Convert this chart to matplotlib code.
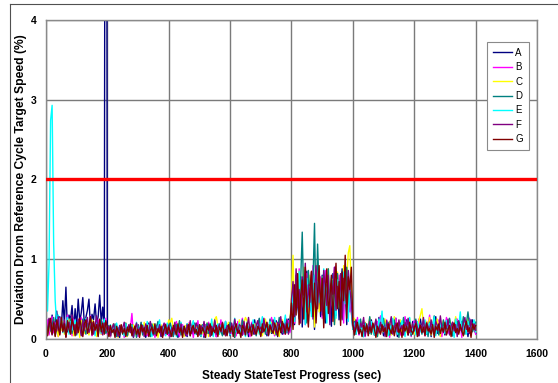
import matplotlib
matplotlib.use("Agg")
import matplotlib.pyplot as plt
from matplotlib.lines import Line2D
import numpy as np

plt.rcParams['font.family'] = ['Liberation Sans', 'DejaVu Sans']

# deviation per run, in hundredths of a percent, one sample every 5 s (0..1400 s)
dev_a = [18, 6, 25, 10, 30, 8, 22, 35, 12, 28, 14, 48, 20, 65, 9, 30, 24, 42, 11, 38,
         16, 50, 22, 33, 52, 18, 27, 36, 50, 15, 31, 24, 44, 19, 28, 55, 21, 40, 12, 1500,
         8, 14, 3, 11, 17, 5, 9, 13, 2, 16, 6, 12, 19, 4, 10, 15, 7, 3, 14, 9,
         18, 5, 12, 8, 16, 2, 11, 20, 6, 13, 9, 4, 17, 10, 14, 3, 8, 15, 12, 6,
         19, 4, 11, 7, 16, 13, 2, 9, 18, 5, 14, 10, 3, 17, 8, 12, 6, 20, 11, 4,
         15, 9, 13, 2, 18, 7, 10, 16, 5, 12, 19, 3, 14, 8, 11, 17, 6, 22, 9, 13,
         4, 16, 10, 2, 18, 12, 7, 15, 5, 20, 9, 14, 3, 17, 11, 6, 24, 8, 13, 19,
         5, 15, 10, 21, 4, 12, 18, 7, 16, 9, 23, 3, 14, 11, 6, 19, 13, 8, 25, 10,
         30, 55, 18, 70, 42, 25, 78, 15, 60, 48, 85, 22, 66, 35, 50, 12, 74, 40, 58, 28,
         80, 45, 20, 68, 38, 62, 16, 82, 52, 30, 72, 24, 56, 88, 44, 65, 18, 76, 50, 34,
         12, 25, 6, 18, 9, 22, 14, 3, 20, 11, 16, 7, 24, 13, 5, 19, 10, 27, 8, 15,
         4, 21, 12, 17, 6, 23, 9, 14, 26, 3, 18, 11, 20, 7, 13, 24, 5, 16, 10, 22,
         8, 15, 19, 4, 25, 12, 9, 17, 6, 21, 14, 3, 18, 11, 28, 7, 16, 20, 10, 13,
         5, 23, 9, 15, 19, 4, 12, 26, 8, 17, 11, 22, 6, 14, 20, 3, 18, 10, 24, 13,
         7]

dev_b = [10, 24, 5, 17, 28, 8, 20, 13, 3, 26, 15, 9, 22, 6, 30, 12, 19, 4, 25, 14,
         7, 21, 11, 27, 5, 18, 23, 9, 16, 29, 4, 20, 13, 8, 24, 17, 6, 22, 10, 26,
         6, 15, 3, 12, 18, 8, 10, 4, 16, 9, 13, 2, 19, 7, 11, 14, 32, 5, 17, 10,
         3, 12, 20, 6, 15, 9, 4, 18, 11, 7, 16, 2, 13, 21, 8, 10, 14, 5, 19, 12,
         4, 17, 9, 15, 6, 22, 11, 3, 14, 18, 8, 12, 5, 20, 10, 16, 2, 13, 9, 23,
         7, 15, 11, 4, 18, 12, 21, 6, 14, 9, 16, 3, 19, 10, 24, 8, 13, 5, 17, 11,
         20, 7, 15, 12, 4, 22, 9, 16, 26, 6, 13, 18, 10, 3, 21, 14, 8, 19, 11, 25,
         5, 16, 12, 22, 7, 18, 10, 27, 14, 4, 20, 9, 15, 24, 11, 6, 19, 13, 23, 8,
         38, 62, 20, 75, 45, 88, 28, 55, 70, 18, 82, 40, 60, 32, 92, 50, 24, 68, 44, 78,
         26, 58, 86, 36, 64, 22, 74, 48, 90, 30, 56, 80, 42, 66, 20, 84, 52, 70, 34, 60,
         20, 8, 15, 27, 5, 18, 12, 23, 3, 16, 10, 25, 7, 19, 14, 4, 22, 11, 29, 9,
         17, 6, 24, 13, 2, 20, 15, 8, 26, 12, 18, 5, 21, 10, 28, 14, 7, 19, 3, 16,
         23, 11, 6, 25, 13, 9, 18, 4, 22, 15, 30, 8, 12, 20, 6, 17, 24, 10, 3, 19,
         14, 27, 7, 16, 11, 21, 5, 13, 25, 9, 18, 2, 23, 12, 17, 8, 26, 10, 15, 20,
         6]

dev_c = [12, 5, 20, 9, 16, 24, 7, 14, 3, 19, 11, 22, 6, 17, 13, 25, 8, 15, 4, 21,
         10, 18, 2, 23, 14, 7, 20, 12, 5, 16, 24, 9, 18, 3, 13, 21, 6, 17, 11, 19,
         9, 16, 4, 12, 19, 7, 14, 2, 11, 17, 6, 13, 20, 3, 10, 15, 8, 18, 5, 12,
         16, 4, 14, 9, 21, 6, 11, 17, 3, 13, 19, 8, 15, 2, 12, 18, 7, 16, 10, 14,
         24, 20, 26, 12, 18, 5, 15, 22, 9, 13, 3, 17, 11, 19, 6, 14, 21, 8, 16, 4,
         12, 18, 7, 15, 10, 20, 3, 14, 22, 9, 25, 28, 17, 6, 13, 19, 11, 4, 16, 21,
         8, 15, 12, 3, 18, 10, 24, 6, 14, 20, 27, 23, 9, 17, 5, 13, 19, 11, 22, 7,
         16, 4, 14, 25, 10, 18, 8, 21, 12, 6, 20, 15, 3, 17, 24, 9, 13, 19, 11, 22,
         55, 105, 30, 72, 48, 85, 20, 64, 90, 38, 58, 26, 80, 46, 70, 15, 62, 95, 34, 52,
         78, 24, 66, 42, 88, 30, 60, 75, 18, 56, 84, 40, 68, 28, 92, 50, 74, 108, 117, 62,
         15, 26, 8, 19, 12, 23, 4, 17, 21, 10, 14, 27, 6, 18, 11, 24, 3, 16, 20, 9,
         13, 25, 7, 18, 22, 5, 15, 28, 10, 19, 12, 24, 4, 16, 21, 8, 14, 26, 11, 18,
         6, 20, 13, 23, 30, 38, 17, 9, 22, 12, 27, 5, 15, 20, 10, 25, 14, 3, 18, 23,
         8, 16, 11, 24, 19, 6, 14, 28, 9, 21, 13, 17, 4, 22, 12, 26, 8, 19, 15, 23,
         10]

dev_d = [15, 6, 22, 10, 18, 27, 4, 13, 20, 8, 24, 11, 16, 3, 21, 14, 26, 7, 19, 12,
         5, 23, 17, 9, 25, 13, 6, 20, 15, 28, 8, 18, 11, 22, 4, 16, 24, 10, 19, 7,
         11, 17, 5, 13, 8, 19, 3, 14, 10, 16, 6, 12, 20, 4, 15, 9, 18, 7, 13, 2,
         16, 10, 21, 5, 12, 17, 8, 14, 3, 19, 11, 6, 15, 22, 9, 13, 4, 18, 10, 16,
         7, 20, 12, 3, 14, 18, 9, 23, 5, 11, 16, 8, 19, 13, 4, 15, 21, 10, 6, 17,
         12, 3, 18, 9, 14, 20, 7, 11, 16, 5, 22, 13, 8, 19, 10, 4, 15, 17, 6, 12,
         21, 9, 14, 3, 18, 11, 16, 7, 24, 13, 5, 19, 10, 15, 8, 20, 12, 4, 17, 26,
         9, 14, 22, 6, 18, 11, 25, 8, 15, 20, 5, 13, 27, 10, 17, 7, 21, 12, 16, 24,
         40, 68, 25, 80, 52, 30, 75, 134, 45, 62, 20, 86, 55, 35, 72, 145, 28, 119, 60, 42,
         78, 22, 66, 50, 88, 32, 58, 74, 18, 64, 82, 38, 56, 26, 70, 46, 90, 34, 68, 52,
         14, 22, 7, 18, 11, 25, 4, 16, 20, 9, 13, 28, 6, 17, 12, 23, 3, 19, 10, 15,
         26, 8, 14, 21, 5, 18, 12, 24, 9, 16, 2, 20, 13, 27, 7, 15, 11, 22, 4, 18,
         14, 25, 8, 12, 19, 6, 23, 10, 16, 3, 21, 13, 17, 29, 9, 15, 5, 20, 11, 24,
         7, 18, 12, 26, 14, 4, 19, 10, 22, 8, 16, 13, 28, 6, 20, 34, 17, 24, 9, 15,
         21]

dev_e = [160, 35, 95, 274, 293, 120, 48, 18, 30, 12, 25, 8, 20, 14, 27, 6, 22, 11, 18, 24,
         9, 16, 21, 5, 19, 13, 26, 8, 15, 22, 10, 17, 4, 23, 12, 20, 7, 18, 25, 14,
         12, 6, 18, 9, 15, 3, 20, 11, 7, 16, 13, 4, 19, 10, 14, 8, 17, 2, 12, 21,
         6, 15, 10, 18, 5, 13, 22, 9, 16, 3, 11, 19, 7, 14, 24, 8, 12, 17, 4, 20,
         10, 15, 6, 13, 18, 3, 16, 11, 21, 8, 14, 5, 19, 12, 9, 17, 23, 6, 13, 10,
         18, 4, 15, 20, 7, 12, 16, 9, 25, 3, 14, 11, 19, 6, 17, 13, 8, 22, 10, 15,
         5, 18, 12, 26, 9, 14, 20, 7, 16, 11, 3, 21, 13, 17, 8, 24, 10, 15, 19, 6,
         14, 28, 9, 18, 12, 5, 22, 16, 11, 27, 7, 19, 13, 24, 10, 17, 30, 8, 15, 21,
         35, 58, 22, 70, 44, 85, 30, 62, 50, 18, 76, 40, 66, 28, 54, 80, 24, 72, 46, 60,
         32, 88, 52, 20, 68, 42, 78, 36, 56, 26, 74, 48, 64, 30, 84, 44, 58, 22, 70, 40,
         12, 20, 6, 16, 24, 9, 14, 3, 19, 11, 17, 7, 22, 13, 5, 18, 10, 25, 15, 35,
         8, 14, 21, 4, 17, 12, 26, 9, 16, 6, 20, 13, 23, 10, 3, 18, 15, 27, 7, 12,
         19, 5, 22, 14, 9, 17, 11, 24, 6, 16, 20, 8, 13, 28, 4, 18, 12, 21, 10, 15,
         7, 23, 14, 19, 9, 16, 2, 25, 11, 17, 34, 8, 13, 20, 6, 22, 12, 18, 14, 24,
         9]

dev_f = [20, 8, 26, 14, 5, 22, 17, 10, 28, 6, 19, 13, 24, 3, 16, 21, 9, 30, 12, 18,
         7, 25, 15, 4, 23, 11, 19, 27, 8, 14, 21, 6, 17, 29, 10, 24, 13, 5, 20, 16,
         10, 16, 4, 13, 19, 7, 12, 3, 17, 9, 14, 21, 5, 11, 18, 8, 15, 2, 13, 20,
         6, 14, 10, 17, 3, 19, 12, 8, 22, 11, 5, 16, 13, 9, 18, 4, 15, 20, 7, 12,
         17, 3, 14, 10, 21, 6, 16, 11, 19, 8, 13, 4, 18, 12, 23, 7, 15, 9, 20, 14,
         5, 17, 11, 22, 8, 13, 19, 3, 16, 10, 24, 6, 14, 18, 9, 21, 12, 4, 17, 15,
         7, 20, 11, 25, 13, 8, 18, 16, 5, 22, 10, 14, 27, 9, 19, 12, 6, 17, 23, 11,
         15, 8, 26, 13, 20, 4, 18, 10, 24, 14, 7, 21, 16, 28, 9, 19, 12, 25, 6, 17,
         50, 72, 28, 88, 40, 62, 20, 78, 55, 95, 34, 68, 46, 84, 25, 60, 92, 38, 74, 52,
         30, 86, 64, 42, 80, 18, 70, 56, 90, 36, 66, 48, 82, 24, 76, 58, 40, 86, 64, 45,
         18, 9, 24, 13, 6, 20, 15, 27, 4, 17, 11, 22, 8, 19, 14, 25, 7, 12, 21, 10,
         16, 3, 23, 13, 18, 28, 6, 15, 20, 9, 24, 11, 17, 5, 21, 14, 26, 8, 12, 19,
         10, 23, 15, 4, 18, 13, 27, 7, 20, 16, 9, 24, 12, 6, 22, 17, 11, 29, 14, 8,
         19, 13, 25, 5, 16, 21, 10, 18, 3, 23, 15, 9, 20, 27, 12, 17, 7, 24, 14, 19,
         11]

dev_g = [22, 4, 18, 26, 6, 20, 3, 24, 15, 5, 27, 9, 19, 2, 23, 12, 6, 25, 17, 4,
         21, 8, 26, 14, 3, 19, 24, 7, 16, 28, 5, 22, 11, 18, 3, 25, 9, 20, 6, 23,
         14, 3, 17, 8, 12, 2, 16, 10, 5, 18, 7, 13, 3, 15, 9, 19, 4, 11, 16, 6,
         12, 2, 18, 9, 14, 5, 17, 3, 11, 15, 7, 19, 4, 13, 8, 16, 2, 12, 18, 6,
         15, 9, 3, 17, 11, 5, 19, 8, 14, 2, 16, 10, 6, 18, 4, 13, 17, 7, 12, 3,
         18, 6, 14, 9, 2, 16, 11, 19, 5, 13, 8, 17, 3, 15, 10, 20, 6, 12, 4, 18,
         9, 16, 3, 14, 19, 7, 11, 2, 17, 13, 5, 20, 8, 15, 4, 18, 10, 6, 16, 12,
         3, 19, 9, 14, 21, 5, 17, 11, 7, 20, 13, 4, 18, 8, 22, 15, 6, 19, 10, 16,
         45, 12, 68, 30, 82, 18, 55, 74, 25, 90, 40, 15, 63, 85, 28, 70, 20, 58, 92, 35,
         76, 14, 60, 88, 32, 52, 80, 22, 66, 95, 38, 72, 17, 84, 48, 105, 26, 78, 62, 90,
         18, 5, 14, 21, 7, 12, 3, 17, 10, 19, 4, 15, 8, 20, 13, 2, 16, 11, 6, 18,
         9, 14, 3, 19, 12, 7, 17, 4, 15, 20, 8, 13, 2, 18, 10, 16, 5, 21, 11, 6,
         14, 19, 3, 12, 17, 8, 15, 4, 20, 10, 13, 6, 18, 2, 16, 11, 19, 7, 14, 9,
         21, 5, 12, 17, 3, 15, 20, 8, 13, 6, 18, 10, 4, 16, 22, 9, 14, 2, 19, 12,
         17]

labels = ['A', 'B', 'C', 'D', 'E', 'F', 'G']
series = [dev_a, dev_b, dev_c, dev_d, dev_e, dev_f, dev_g]
colors = ['#000080', '#FF00FF', '#FFFF00', '#008080', '#00FFFF', '#800080', '#800000']
step = 5
limit = 2

fig = plt.figure(figsize=(5.58, 3.83), dpi=100)
ax = fig.add_axes([0.0824, 0.1149, 0.88, 0.8329])

for lab, vals, col in zip(labels, series, colors):
    t = step * np.arange(len(vals))
    ax.plot(t, np.array(vals) / 100.0, color=col, lw=1.0, label=lab)

ax.axhline(limit, color='#FF0000', lw=2.4, zorder=5)

ax.set_xlim(0, 1600)
ax.set_ylim(0, 4)
ax.set_xticks(range(0, 1601, 200))
ax.set_yticks(range(0, 5))
ax.grid(True, color='#7a7a7a', lw=1.0)
ax.set_axisbelow(True)
for sp in ax.spines.values():
    sp.set_color('#8a8a8a')
    sp.set_linewidth(1.0)
ax.tick_params(length=0, labelsize=7.5)
ax.tick_params(axis='x', pad=7)
ax.tick_params(axis='y', pad=7)
for lbl in ax.get_xticklabels() + ax.get_yticklabels():
    lbl.set_fontweight('bold')

ax.set_xlabel('Steady StateTest Progress (sec)', fontsize=8.5, fontweight='bold', labelpad=8)
ax.set_ylabel('Deviation Drom Reference Cycle Target Speed (%)', fontsize=8.7,
              fontweight='bold')
ax.yaxis.set_label_coords(-0.038, 0.5)

leg = ax.legend(loc='upper left', bbox_to_anchor=(0.898, 0.931), fontsize=7,
                frameon=True, fancybox=False, edgecolor='#8a8a8a', framealpha=1,
                handlelength=2.0, labelspacing=0.45, borderpad=0.6, handletextpad=0.3,
                borderaxespad=0)
leg.get_frame().set_linewidth(0.8)

# outer chart frame
fig.add_artist(Line2D([10 / 558, 10 / 558], [0, 1 - 4 / 383], transform=fig.transFigure,
                      color='#505050', lw=0.8))
fig.add_artist(Line2D([10 / 558, 1], [1 - 4 / 383, 1 - 4 / 383], transform=fig.transFigure,
                      color='#505050', lw=0.8))

fig.savefig('out.png', dpi=100)
